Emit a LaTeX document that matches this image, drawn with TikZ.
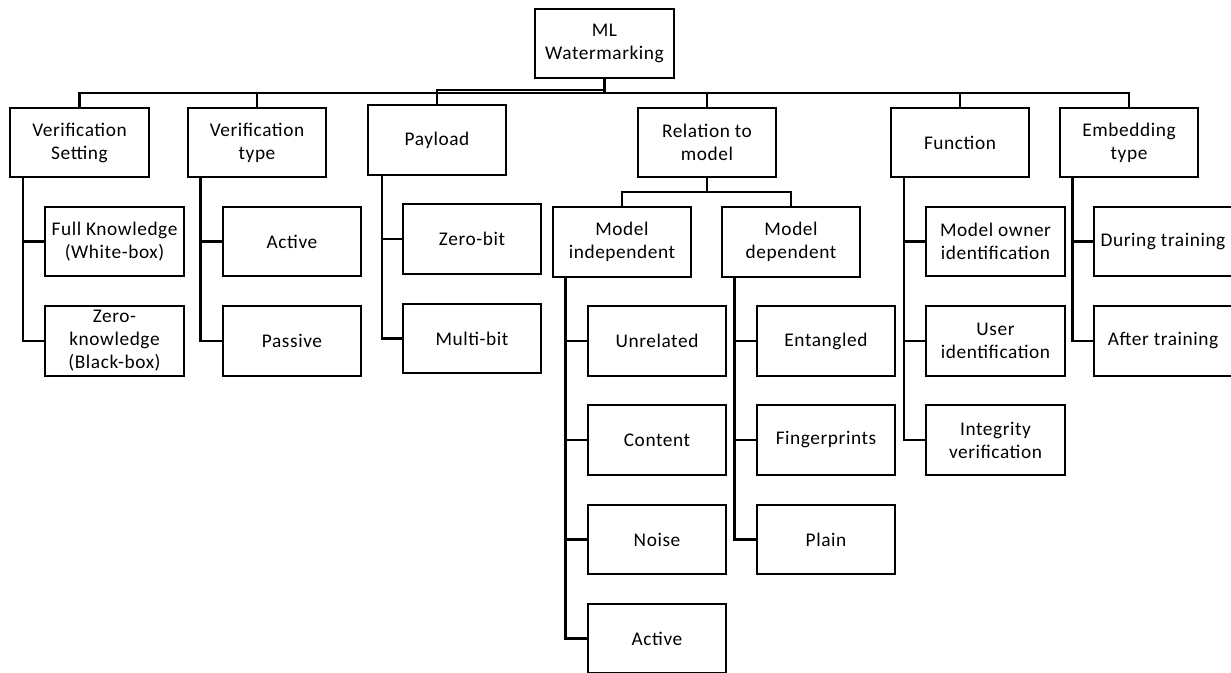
\documentclass[tikz,border=0pt]{standalone}
\usepackage{fontspec}
\setmainfont{Carlito}[LetterSpace=3]
\begin{document}
\begin{tikzpicture}[x=0.75pt,y=-0.75pt,
  box/.style={draw,line width=1.7pt,minimum width=104pt,minimum height=52pt,inner sep=1pt,align=center,
    font=\fontsize{14.5}{17.25}\selectfont},
  conn/.style={line width=1.7pt,line join=miter}]
\useasboundingbox (0,0) rectangle (1231,673);
% root and first level
\node[box] (root) at (604.5,43.5) {ML\\Watermarking};
\node[box] (vs) at (79.5,142.5) {Verification\\Setting};
\node[box] (vt) at (257,142.5) {Verification\\type};
\node[box] (pl) at (437,140) {Payload};
\node[box] (rm) at (707,142.5) {Relation to\\model};
\node[box] (fn) at (960,142.5) {Function};
\node[box] (et) at (1129,142.5) {Embedding\\type};
% second level
\node[box] (fk) at (114.5,241.5) {Full Knowledge\\(White-box)};
\node[box] (zk) at (114.5,341) {Zero-\\knowledge\\(Black-box)};
\node[box] (va) at (292,241.5) {Active};
\node[box] (vp) at (292,341) {Passive};
\node[box] (zb) at (472,239) {Zero-bit};
\node[box] (mb) at (472,338.5) {Multi-bit};
\node[box] (mi) at (622,242) {Model\\independent};
\node[box] (md) at (791,242) {Model\\dependent};
\node[box] (ur) at (657,341) {Unrelated};
\node[box] (ct) at (657,440) {Content};
\node[box] (ns) at (657,539.5) {Noise};
\node[box] (ac) at (657,638.5) {Active};
\node[box] (en) at (826,341) {Entangled};
\node[box] (fp) at (826,440) {Fingerprints};
\node[box] (pn) at (826,539.5) {Plain};
\node[box] (mo) at (995.5,241.5) {Model owner\\identification};
\node[box] (ui) at (995.5,341) {User\\identification};
\node[box] (iv) at (995.5,440) {Integrity\\verification};
\node[box] (dt) at (1163,241.5) {During training};
\node[box] (at) at (1163,341) {After training};
% connectors from root
\coordinate (bar) at (604.5,93);
\coordinate (barp) at (604.5,90);
\coordinate (barL) at (vs.north |- bar);
\coordinate (barR) at (et.north |- bar);
\draw[conn] (root.south) -- (bar);
\draw[conn] (vs.north) -- (barL) -- (barR) -- (et.north);
\foreach \n in {vt,rm,fn} \draw[conn] (\n.north |- bar) -- (\n.north);
\draw[conn] (barp) -| (pl.north);
% relation to model
\coordinate (rmbar) at (707,192);
\draw[conn] (rm.south) -- (rmbar);
\draw[conn] (mi.north) |- (rmbar) -| (md.north);
% left-side trunks
\coordinate (vsx) at ([xshift=10.5pt]vs.south west);
\coordinate (vtx) at ([xshift=10.5pt]vt.south west);
\coordinate (plx) at ([xshift=11.5pt]pl.south west);
\coordinate (mix) at ([xshift=10.5pt]mi.south west);
\coordinate (mdx) at ([xshift=10.5pt]md.south west);
\coordinate (fnx) at ([xshift=11pt]fn.south west);
\coordinate (etx) at ([xshift=10.5pt]et.south west);
\foreach \p/\c in {vsx/zk,vtx/vp,plx/mb,mix/ac,mdx/pn,fnx/iv,etx/at}
  \draw[conn] (\p) |- (\c.west);
\foreach \p/\c in {vsx/fk,vtx/va,plx/zb,mix/ur,mix/ct,mix/ns,mdx/en,mdx/fp,fnx/mo,fnx/ui,etx/dt}
  \draw[conn] (\p |- \c.west) -- (\c.west);
\end{tikzpicture}
\end{document}
